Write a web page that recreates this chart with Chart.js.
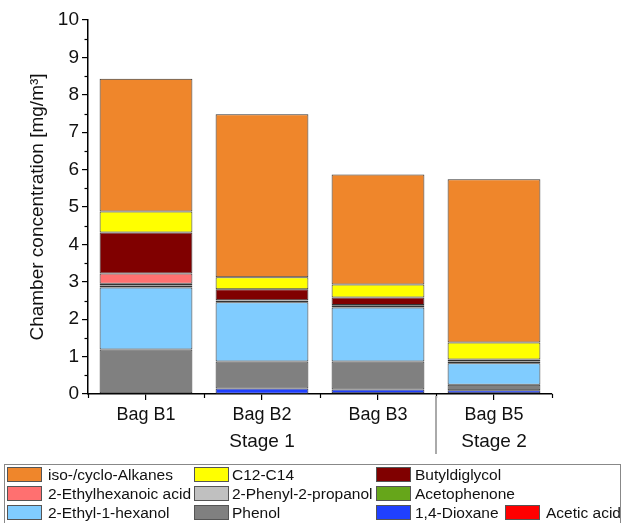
<!DOCTYPE html>
<html>
<head>
<meta charset="utf-8">
<script src="https://cdn.jsdelivr.net/npm/chart.js@4/dist/chart.umd.min.js"></script>
<style>
  html, body { margin: 0; padding: 0; background: #fff; }
  #wrap { position: relative; width: 624px; height: 523px; overflow: hidden; }
  #legend {
    position: absolute; left: 4px; top: 464px; width: 617px; height: 70px;
    border: 1px solid #888; box-sizing: border-box;
    font-family: "Liberation Sans", Arial, sans-serif; font-size: 15.5px; color: #111;
  }
  .sw { position: absolute; width: 33px; height: 13px; border: 1px solid #555; }
  .tx { position: absolute; white-space: nowrap; line-height: 16px; }
</style>
</head>
<body>
<div id="wrap">
  <canvas id="chamberChart" width="624" height="523"></canvas>
  <div id="legend"></div>
</div>
<script>
// 袋子 (x 軸類別) 與所屬階段
const bags = ['Bag B1', 'Bag B2', 'Bag B3', 'Bag B5'];
const stageNames = ['Stage 1', 'Stage 2'];
const bagStage = [0, 0, 0, 1];
const yTicks = [0, 1, 2, 3, 4, 5, 6, 7, 8, 9, 10];

// 各物質濃度 (mg/m³)，由下往上堆疊
const aceticAcid        = [0.02, 0.01, 0.02, 0.02];
const dioxane           = [0.00, 0.14, 0.10, 0.08];
const phenol            = [1.17, 0.72, 0.75, 0.15];
const ethylHexanol      = [1.66, 1.58, 1.44, 0.57];
const acetophenone      = [0.05, 0.05, 0.05, 0.05];
const phenylPropanol    = [0.05, 0.01, 0.02, 0.00];
const ethylhexanoicAcid = [0.27, 0.00, 0.00, 0.00];
const butyldiglycol     = [1.10, 0.29, 0.20, 0.05];
const c12c14            = [0.56, 0.32, 0.35, 0.46];
const alkanes           = [3.55, 4.36, 2.94, 4.36];

const seriesNames = ['Acetic acid', '1,4-Dioxane', 'Phenol', '2-Ethyl-1-hexanol', 'Acetophenone',
  '2-Phenyl-2-propanol', '2-Ethylhexanoic acid', 'Butyldiglycol', 'C12-C14', 'iso-/cyclo-Alkanes'];
const seriesValues = [aceticAcid, dioxane, phenol, ethylHexanol, acetophenone,
  phenylPropanol, ethylhexanoicAcid, butyldiglycol, c12c14, alkanes];
const seriesColors = ['#FF0000', '#2040FF', '#808080', '#80CCFF', '#66A61A',
  '#C0C0C0', '#FF7070', '#800000', '#FFFF00', '#EF862B'];

const FONT = '"Liberation Sans", Arial, sans-serif';

// 小刻度、階段標籤與分隔線
const extrasPlugin = {
  id: 'extras',
  afterDraw(chart) {
    const c = chart.ctx;
    const x = chart.scales.x, y = chart.scales.y;
    const area = chart.chartArea;
    c.save();
    c.strokeStyle = '#000';
    c.lineWidth = 1.2;
    // y 軸小刻度
    for (let i = 0; i < y.ticks.length - 1; i++) {
      const py = Math.round(y.getPixelForValue((y.ticks[i].value + y.ticks[i + 1].value) / 2)) + 0.5;
      c.beginPath(); c.moveTo(area.left - 3.5, py); c.lineTo(area.left, py); c.stroke();
    }
    // x 軸類別邊界刻度
    const step = x.getPixelForValue(1) - x.getPixelForValue(0);
    for (let i = 0; i <= bags.length; i++) {
      const px = Math.round(x.getPixelForValue(i) - step / 2) + 0.5;
      c.beginPath(); c.moveTo(px, area.bottom); c.lineTo(px, area.bottom + 4); c.stroke();
    }
    // 階段標籤
    c.fillStyle = '#111';
    c.font = '19px ' + FONT;
    c.textAlign = 'center';
    c.textBaseline = 'middle';
    stageNames.forEach((name, s) => {
      const idx = bagStage.map((v, i) => v === s ? i : -1).filter(i => i >= 0);
      const cx = idx.reduce((a, i) => a + x.getPixelForValue(i), 0) / idx.length;
      c.fillText(name, cx, area.bottom + 48);
    });
    // 階段分隔線
    c.strokeStyle = '#aaa';
    c.lineWidth = 2;
    for (let i = 1; i < bagStage.length; i++) {
      if (bagStage[i] !== bagStage[i - 1]) {
        const px = Math.round(x.getPixelForValue(i) - step / 2);
        c.beginPath(); c.moveTo(px, area.bottom + 2); c.lineTo(px, area.bottom + 60); c.stroke();
      }
    }
    c.restore();
  }
};

const ctx = document.getElementById('chamberChart').getContext('2d');
new Chart(ctx, {
  type: 'bar',
  data: {
    labels: bags,
    datasets: seriesNames.map((name, i) => ({
      label: name,
      data: seriesValues[i],
      backgroundColor: seriesColors[i],
      borderColor: '#333',
      borderWidth: 1,
      borderSkipped: false,
      categoryPercentage: 0.8,
      barPercentage: 1.0
    }))
  },
  options: {
    responsive: false,
    animation: false,
    layout: { padding: { left: 0, right: 72, top: 20, bottom: 0 } },
    plugins: { legend: { display: false }, tooltip: { enabled: false } },
    scales: {
      x: {
        stacked: true,
        afterFit(scale) { scale.height = 129; },
        grid: { display: true, drawOnChartArea: false, offset: false, tickLength: 6, color: '#000', lineWidth: 1.2 },
        border: { display: true, color: '#000', width: 1.5 },
        ticks: { color: '#111', font: { family: FONT, size: 18 }, padding: 4 }
      },
      y: {
        stacked: true,
        min: yTicks[0],
        max: yTicks[yTicks.length - 1],
        afterFit(scale) { scale.width = 88; },
        afterBuildTicks(scale) { scale.ticks = yTicks.map(v => ({ value: v })); },
        grid: { display: true, drawOnChartArea: false, tickLength: 6, color: '#000', lineWidth: 1.2 },
        border: { display: true, color: '#000', width: 1.5 },
        ticks: { color: '#111', font: { family: FONT, size: 19 }, padding: 3 },
        title: {
          display: true,
          text: 'Chamber concentration [mg/m³]',
          color: '#111',
          font: { family: FONT, size: 19 },
          padding: { top: 26, bottom: 0 }
        }
      }
    }
  },
  plugins: [extrasPlugin]
});

// 圖例：依堆疊相反順序，每列三項 (最後一列四項)
const swatchX = [2, 189, 371, 500];
const textX = [43, 227, 410, 541];
const rowY = [2, 21, 40];
const legendEl = document.getElementById('legend');
const order = seriesNames.map((_, i) => seriesNames.length - 1 - i);
order.forEach((si, k) => {
  const row = Math.min(Math.floor(k / 3), 2);
  const col = k - row * 3;
  const sw = document.createElement('div');
  sw.className = 'sw';
  sw.style.left = swatchX[col] + 'px';
  sw.style.top = rowY[row] + 'px';
  sw.style.background = seriesColors[si];
  const tx = document.createElement('div');
  tx.className = 'tx';
  tx.style.left = textX[col] + 'px';
  tx.style.top = rowY[row] + 'px';
  tx.textContent = seriesNames[si];
  legendEl.appendChild(sw);
  legendEl.appendChild(tx);
});
</script>
</body>
</html>
